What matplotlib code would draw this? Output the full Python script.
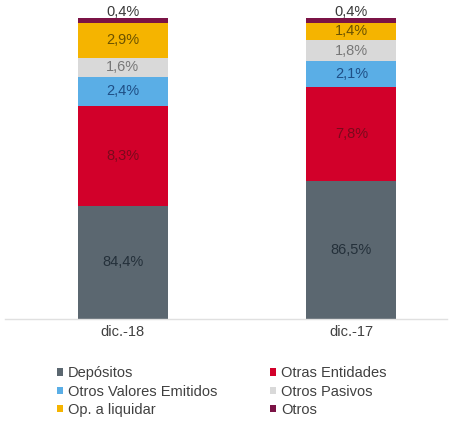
import matplotlib
matplotlib.use("Agg")
import matplotlib.pyplot as plt
import numpy as np

plt.rcParams['font.family'] = ['Liberation Sans', 'DejaVu Sans']

categories = ["dic.-18", "dic.-17"]
series = ["Depósitos", "Otras Entidades", "Otros Valores Emitidos",
          "Otros Pasivos", "Op. a liquidar", "Otros"]
depositos = [84.4, 86.5]
otras_entidades = [8.3, 7.8]
otros_valores = [2.4, 2.1]
otros_pasivos = [1.6, 1.8]
op_liquidar = [2.9, 1.4]
otros = [0.4, 0.4]

values = [depositos, otras_entidades, otros_valores, otros_pasivos, op_liquidar, otros]
colors = ["#5b6770", "#d2002a", "#5aaee6", "#d9d9d9", "#f5b400", "#7b1346"]
label_colors = ["#24303a", "#7a0a1c", "#1f4f86", "#777777", "#6b5200", "#3a3a3a"]

fig = plt.figure(figsize=(4.52, 4.21), dpi=100)
ax = fig.add_axes([5 / 452, (421 - 319) / 421, 442 / 452, 301 / 421])

x = np.arange(len(categories))
width = 0.394
bottoms = np.zeros(len(categories))
handles = []
for name, vals, col, lcol in zip(series, values, colors, label_colors):
    vals = np.array(vals)
    bars = ax.bar(x, vals, width, bottom=bottoms, color=col, label=name,
                  zorder=2)
    handles.append(bars)
    for xi, b, v in zip(x, bottoms, vals):
        txt = f"{v:.1f}%".replace(".", ",")
        if name == "Otros":
            y = b + v - 0.05
            va = "bottom"
        elif name == "Depósitos":
            y = (max(b, 75) + b + v) / 2
            va = "center"
        else:
            y = b + v / 2
            va = "center"
        ax.text(xi, y, txt, ha="center", va=va, fontsize=10.5, color=lcol,
                clip_on=False, zorder=3)
    bottoms = bottoms + vals

ax.set_ylim(75, 100)
ax.set_xlim(-0.516, 1.418)
ax.set_xticks(x)
ax.set_xticklabels(categories, fontsize=10.5, color="#404040")
ax.tick_params(axis="x", length=0, pad=4)
ax.set_yticks([])
for s in ["top", "left", "right"]:
    ax.spines[s].set_visible(False)
ax.spines["bottom"].set_color("#e0e0e0")
ax.spines["bottom"].set_linewidth(1.0)

order = [0, 2, 4, 1, 3, 5]
leg = fig.legend([handles[i] for i in order], [series[i] for i in order],
                 ncol=2, loc="upper left", bbox_to_anchor=(44 / 452, 1 - 353 / 421),
                 frameon=False, fontsize=10.5, handlelength=0.4, handleheight=0.4,
                 handletextpad=0.35, columnspacing=3.6, labelspacing=0.3,
                 labelcolor="#404040")

fig.savefig("out.png", dpi=100)
